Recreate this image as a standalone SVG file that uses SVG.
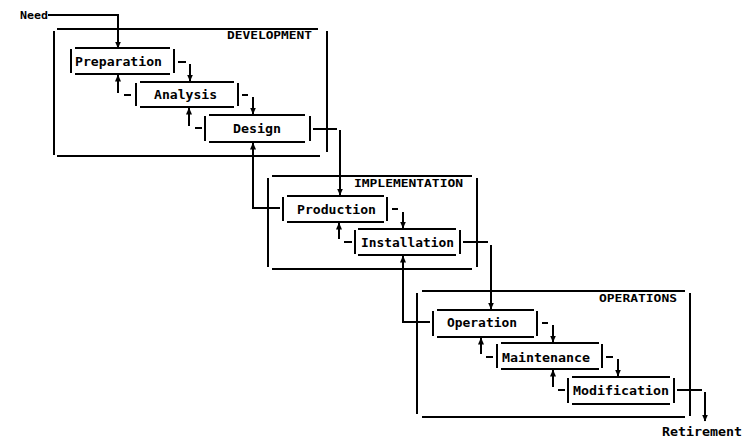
<svg xmlns="http://www.w3.org/2000/svg" width="743" height="439" viewBox="0 0 743 439">
<defs>
<marker id="ah" markerUnits="userSpaceOnUse" markerWidth="7" markerHeight="6" refX="6.5" refY="3" orient="auto">
<path d="M0,0 L7,3 L0,6 z" fill="#000"/>
</marker>
<style>
line, polyline { stroke:#000; stroke-width:2; fill:none; }
.lbl { font-family:"DejaVu Sans Mono","Liberation Mono",monospace; font-weight:bold; font-size:12px; fill:#000; }
.frm { font-family:"DejaVu Sans Mono","Liberation Mono",monospace; font-weight:bold; font-size:10px; fill:#000; }
.arr { marker-end:url(#ah); }
</style>
</defs>
<rect width="743" height="439" fill="#fff"/>

<g id="frame-development">
<line x1="57" y1="29" x2="318" y2="29"/>
<line x1="54" y1="31" x2="54" y2="155"/>
<line x1="327" y1="31" x2="327" y2="152"/>
<line x1="57" y1="156" x2="320" y2="156"/>
<text class="frm" x="227" y="39" textLength="85" lengthAdjust="spacingAndGlyphs">DEVELOPMENT</text>
</g>

<g id="frame-implementation">
<line x1="272" y1="176" x2="472" y2="176"/>
<line x1="268" y1="178" x2="268" y2="267"/>
<line x1="477" y1="178" x2="477" y2="267"/>
<line x1="272" y1="269" x2="472" y2="269"/>
<text class="frm" x="354" y="187" textLength="109" lengthAdjust="spacingAndGlyphs">IMPLEMENTATION</text>
</g>

<g id="frame-operations">
<line x1="422" y1="291" x2="685" y2="291"/>
<line x1="417" y1="293" x2="417" y2="414"/>
<line x1="690" y1="293" x2="690" y2="416"/>
<line x1="422" y1="417" x2="685" y2="417"/>
<text class="frm" x="599" y="302" textLength="78" lengthAdjust="spacingAndGlyphs">OPERATIONS</text>
</g>

<g id="node-preparation">
<line x1="75" y1="48" x2="170" y2="48"/>
<line x1="75" y1="74" x2="170" y2="74"/>
<line x1="71" y1="49" x2="71" y2="73"/>
<line x1="174" y1="49" x2="174" y2="73"/>
<text class="lbl" x="75" y="66" textLength="87" lengthAdjust="spacingAndGlyphs">Preparation</text>
</g>

<g id="node-analysis">
<line x1="140" y1="82" x2="234" y2="82"/>
<line x1="140" y1="107" x2="234" y2="107"/>
<line x1="136" y1="83" x2="136" y2="106"/>
<line x1="238" y1="83" x2="238" y2="106"/>
<text class="lbl" x="154" y="99" textLength="63" lengthAdjust="spacingAndGlyphs">Analysis</text>
</g>

<g id="node-design">
<line x1="209" y1="115" x2="305" y2="115"/>
<line x1="209" y1="142" x2="305" y2="142"/>
<line x1="205" y1="116" x2="205" y2="141"/>
<line x1="310" y1="116" x2="310" y2="141"/>
<text class="lbl" x="233" y="133" textLength="48" lengthAdjust="spacingAndGlyphs">Design</text>
</g>

<g id="node-production">
<line x1="287" y1="196" x2="384" y2="196"/>
<line x1="287" y1="222" x2="384" y2="222"/>
<line x1="283" y1="197" x2="283" y2="221"/>
<line x1="387" y1="197" x2="387" y2="221"/>
<text class="lbl" x="297" y="214" textLength="79" lengthAdjust="spacingAndGlyphs">Production</text>
</g>

<g id="node-installation">
<line x1="358" y1="229" x2="456" y2="229"/>
<line x1="358" y1="255" x2="456" y2="255"/>
<line x1="355" y1="230" x2="355" y2="254"/>
<line x1="460" y1="230" x2="460" y2="254"/>
<text class="lbl" x="361" y="247" textLength="93" lengthAdjust="spacingAndGlyphs">Installation</text>
</g>

<g id="node-operation">
<line x1="437" y1="310" x2="534" y2="310"/>
<line x1="437" y1="337" x2="534" y2="337"/>
<line x1="433" y1="311" x2="433" y2="336"/>
<line x1="537" y1="311" x2="537" y2="336"/>
<text class="lbl" x="447" y="327" textLength="70" lengthAdjust="spacingAndGlyphs">Operation</text>
</g>

<g id="node-maintenance">
<line x1="501" y1="343" x2="599" y2="343"/>
<line x1="501" y1="369" x2="599" y2="369"/>
<line x1="497" y1="344" x2="497" y2="368"/>
<line x1="602" y1="344" x2="602" y2="368"/>
<text class="lbl" x="502" y="362" textLength="88" lengthAdjust="spacingAndGlyphs">Maintenance</text>
</g>

<g id="node-modification">
<line x1="572" y1="377" x2="670" y2="377"/>
<line x1="572" y1="404" x2="670" y2="404"/>
<line x1="568" y1="378" x2="568" y2="403"/>
<line x1="674" y1="378" x2="674" y2="403"/>
<text class="lbl" x="573" y="395" textLength="96" lengthAdjust="spacingAndGlyphs">Modification</text>
</g>

<g id="terminals">
<text class="frm" x="20" y="19" textLength="28" lengthAdjust="spacingAndGlyphs">Need</text>
<text class="lbl" x="662" y="436" font-size="11" textLength="80" lengthAdjust="spacingAndGlyphs">Retirement</text>
</g>

<g id="connectors">
<!-- Need -> Preparation -->
<polyline class="arr" points="48,15 118,15 118,48"/>
<!-- Preparation -> Analysis -->
<line x1="178" y1="62" x2="186" y2="62"/>
<line class="arr" x1="190" y1="64" x2="190" y2="81"/>
<!-- Analysis -> Preparation -->
<line class="arr" x1="118" y1="93" x2="118" y2="75"/>
<line x1="124" y1="95" x2="131" y2="95"/>
<!-- Analysis -> Design -->
<line x1="242" y1="95" x2="248" y2="95"/>
<line class="arr" x1="253" y1="97" x2="253" y2="114"/>
<!-- Design -> Analysis -->
<line class="arr" x1="189" y1="126" x2="189" y2="108"/>
<line x1="195" y1="128" x2="202" y2="128"/>
<!-- Design -> Production -->
<line x1="313" y1="129" x2="337" y2="129"/>
<line class="arr" x1="340" y1="130" x2="340" y2="195"/>
<!-- Production -> Design -->
<polyline class="arr" points="280,208 253,208 253,143"/>
<!-- Production -> Installation -->
<line x1="392" y1="209" x2="398" y2="209"/>
<line class="arr" x1="403" y1="212" x2="403" y2="228"/>
<!-- Installation -> Production -->
<line class="arr" x1="339" y1="239" x2="339" y2="223"/>
<line x1="344" y1="242" x2="352" y2="242"/>
<!-- Installation -> Operation -->
<line x1="463" y1="242" x2="488" y2="242"/>
<line class="arr" x1="491" y1="245" x2="491" y2="309"/>
<!-- Operation -> Installation -->
<polyline class="arr" points="430,322 403,322 403,256"/>
<!-- Operation -> Maintenance -->
<line x1="542" y1="323" x2="548" y2="323"/>
<line class="arr" x1="553" y1="325" x2="553" y2="342"/>
<!-- Maintenance -> Operation -->
<line class="arr" x1="481" y1="354" x2="481" y2="338"/>
<line x1="486" y1="357" x2="493" y2="357"/>
<!-- Maintenance -> Modification -->
<line x1="606" y1="357" x2="613" y2="357"/>
<line class="arr" x1="618" y1="359" x2="618" y2="376"/>
<!-- Modification -> Maintenance -->
<line class="arr" x1="553" y1="387" x2="553" y2="370"/>
<line x1="558" y1="390" x2="565" y2="390"/>
<!-- Modification -> Retirement -->
<line x1="677" y1="390" x2="702" y2="390"/>
<line class="arr" x1="705" y1="392" x2="705" y2="421"/>
</g>
</svg>
